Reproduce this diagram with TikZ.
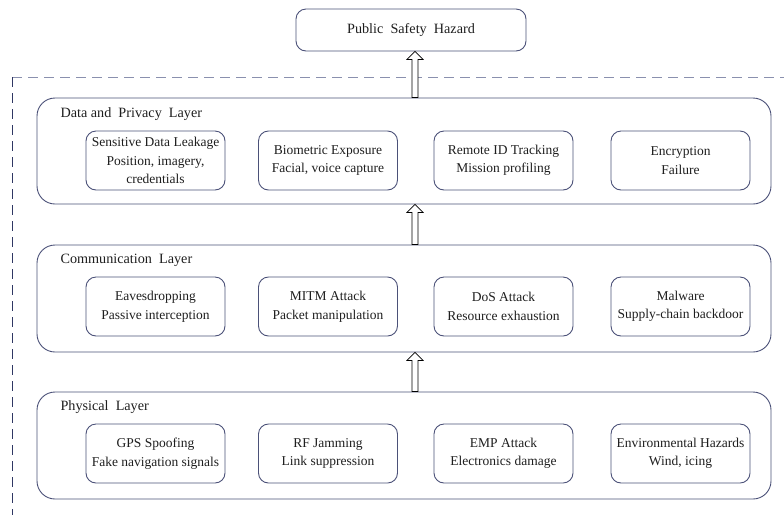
\documentclass[tikz,border=0pt]{standalone}
\usepackage{fontspec}
\setmainfont{Liberation Serif}
\usepackage{tikz}
\usetikzlibrary{calc}
\definecolor{edge}{HTML}{4B5178}
\definecolor{dashtop}{HTML}{8A90AE}
\definecolor{dashleft}{HTML}{2F3763}
\definecolor{txt}{HTML}{1E1E1E}

\begin{document}
\begin{tikzpicture}[x=1pt,y=-1pt,
  font=\fontsize{13.5}{18.5}\selectfont, text=txt,
  layerbox/.style={draw=edge, line width=0.9pt, rounded corners=18pt, minimum width=734pt, minimum height=106pt},
  layername/.style={anchor=west, font=\fontsize{14.2}{18}\selectfont},
  threat/.style={draw=edge, line width=0.9pt, rounded corners=10pt, minimum width=139pt, minimum height=59pt, align=center, inner sep=1pt},
  liftarrow/.style={draw=black, line width=0.7pt, fill=white}]
\useasboundingbox (0,0) rectangle (784,515);

% frame
\coordinate (corner) at (12,77);
\draw[dashtop, line width=0.9pt, dash pattern=on 10pt off 6pt] (corner) -- (784,77);
\draw[dashleft, line width=0.9pt, dash pattern=on 10pt off 6pt] (corner) -- (12,515);

\node[draw=edge, line width=0.9pt, rounded corners=10pt, minimum width=230pt, minimum height=42pt, font=\fontsize{14.2}{18}\selectfont] (hazard) at (411,30) {Public\ \ Safety\ \ Hazard};

% layers
\node[layerbox] (data) at (404,151) {};
\node[layerbox, minimum height=107pt] (comm) at (404,298.5) {};
\node[layerbox, minimum height=107pt] (phys) at (404,445.5) {};
\node[layername] (datalabel) at (57,114) {Data and\ \ Privacy\ \ Layer};
\node[layername] (commlabel) at (57,260) {Communication\ \ Layer};
\node[layername] (physlabel) at (57,407) {Physical\ \ Layer};

% data and privacy threats
\node[threat] (leak) at (155.5,160.5) {Sensitive Data Leakage\\Position, imagery,\\credentials};
\node[threat] (bio) at (328,160.5) {Biometric Exposure\\Facial, voice capture};
\node[threat] (rid) at (503.5,160.5) {Remote ID Tracking\\Mission profiling};
\node[threat] (enc) at (680.5,160.5) {Encryption\\Failure};

% communication threats
\node[threat] (eaves) at (155.5,306.5) {Eavesdropping\\Passive interception};
\node[threat] (mitm) at (328,306.5) {MITM Attack\\Packet manipulation};
\node[threat] (dos) at (503.5,306.5) {DoS Attack\\Resource exhaustion};
\node[threat] (mal) at (680.5,306.5) {Malware\\Supply-chain backdoor};

% physical threats
\node[threat] (gps) at (155.5,453.5) {GPS Spoofing\\Fake navigation signals};
\node[threat] (rf) at (328,453.5) {RF Jamming\\Link suppression};
\node[threat] (emp) at (503.5,453.5) {EMP Attack\\Electronics damage};
\node[threat] (env) at (680.5,453.5) {Environmental Hazards\\Wind, icing};

% upward hollow arrows
\coordinate (ax) at (415,0);
\foreach \from/\to in {data.north/hazard.south, comm.north/data.south, phys.north/comm.south} {
  \coordinate (s) at (\from -| ax);
  \coordinate (t) at (\to -| ax);
  \draw[liftarrow] ($(s)+(-3,0)$) -- ($(t)+(-3,8)$) -- ($(t)+(-8,8)$) -- (t)
    -- ($(t)+(8,8)$) -- ($(t)+(3,8)$) -- ($(s)+(3,0)$) -- cycle;
}
\end{tikzpicture}
\end{document}
